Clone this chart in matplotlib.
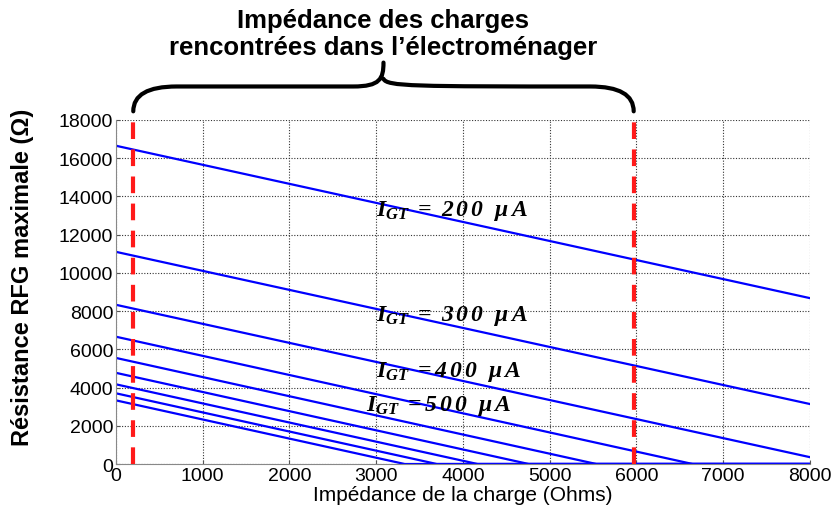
import numpy as np
import matplotlib.pyplot as plt
from matplotlib.path import Path
from matplotlib.patches import PathPatch

plt.rcParams['font.family'] = ['Liberation Sans', 'DejaVu Sans']
plt.rcParams['mathtext.fontset'] = 'custom'
plt.rcParams['mathtext.it'] = 'Liberation Serif:italic:bold'
plt.rcParams['mathtext.rm'] = 'Liberation Serif:italic:bold'
plt.rcParams['mathtext.bf'] = 'Liberation Serif:italic:bold'

# courbes (impédance en Ohms, résistance en Ohms)
series_z = [
    [0, 8000],
    [0, 8000],
    [0, 8000],
    [0, 6650, 8000],
    [0, 5540, 8000],
    [0, 4760, 8000],
    [0, 4170, 8000],
    [0, 3700, 8000],
    [0, 3330, 8000],
]
series_r = [
    [16650, 8680],
    [11100, 3140],
    [8330, 360],
    [6660, 0, 0],
    [5550, 0, 0],
    [4770, 0, 0],
    [4170, 0, 0],
    [3700, 0, 0],
    [3330, 0, 0],
]

label_texts = [r'$I_{GT}\ =\ 2\,0\,0\ \ \mu\,A$', r'$I_{GT}\ =\ 3\,0\,0\ \ \mu\,A$',
               r'$I_{GT}\ =4\,0\,0\ \ \mu\,A$', r'$I_{GT}\ =5\,0\,0\ \ \mu\,A$']
label_x = [3000, 3000, 3000, 2880]
label_y = [13300, 7800, 4850, 3100]

z_limits = [200, 5970]
title_lines = "Impédance des charges\nrencontrées dans l\u2019électroménager"

fig = plt.figure(figsize=(8.4, 5.06), dpi=100)
ax = fig.add_axes([0.138, 0.081, 0.826, 0.68])

for z, r in zip(series_z, series_r):
    ax.plot(z, r, color='#0000ff', lw=1.6)

for zl in z_limits:
    ax.plot([zl, zl], [0, 18000], color='#ff1a1a', lw=3, ls=(0, (4, 2.5)), zorder=3)

for t, x, y in zip(label_texts, label_x, label_y):
    ax.text(x, y, t, fontsize=17, va='center', ha='left')

ax.set_xlim(0, 8000)
ax.set_ylim(0, 18000)
ax.set_xticks(np.arange(0, 8001, 1000))
ax.set_yticks(np.arange(0, 18001, 2000))
ax.grid(True, color='#333333', ls=(0, (1, 1.5)), lw=0.8)
ax.tick_params(labelsize=14, length=3, direction='in', colors='#555555', labelcolor='black', pad=2)
for s in ['top', 'right']:
    ax.spines[s].set_visible(False)
for s in ['left', 'bottom']:
    ax.spines[s].set_color('#888888')
ax.set_xlabel("Impédance de la charge (Ohms)", fontsize=15)
ax.xaxis.set_label_coords(0.5, -0.062)
ax.set_ylabel("Résistance RFG maximale (\u03a9)", fontsize=17, fontweight='bold')
ax.yaxis.set_label_coords(-0.118, 0.545)

# accolade au-dessus du graphique
xl, xr = z_limits
xm = (xl + xr) / 2
y0, y1, y2 = 18450, 19750, 21000
verts = [(xl, y0), (xl, y1), (xl + 500, y1),
         (xm - 350, y1),
         (xm - 40, y1), (xm, y1 + 400), (xm, y2),
         (xm, y1 + 400), (xm + 40, y1), (xm + 350, y1),
         (xr - 500, y1),
         (xr, y1), (xr, y0)]
codes = [Path.MOVETO, Path.CURVE3, Path.CURVE3,
         Path.LINETO,
         Path.CURVE4, Path.CURVE4, Path.CURVE4,
         Path.MOVETO, Path.CURVE4, Path.CURVE4,
         Path.LINETO,
         Path.CURVE3, Path.CURVE3]
ax.add_patch(PathPatch(Path(verts, codes), fill=False, lw=3, color='black',
                       clip_on=False, capstyle='round', joinstyle='round'))

fig.text(0.456, 0.932, title_lines, ha='center', va='center', fontsize=18.5,
         fontweight='bold', linespacing=1.12)

fig.savefig('out.png', dpi=100)
